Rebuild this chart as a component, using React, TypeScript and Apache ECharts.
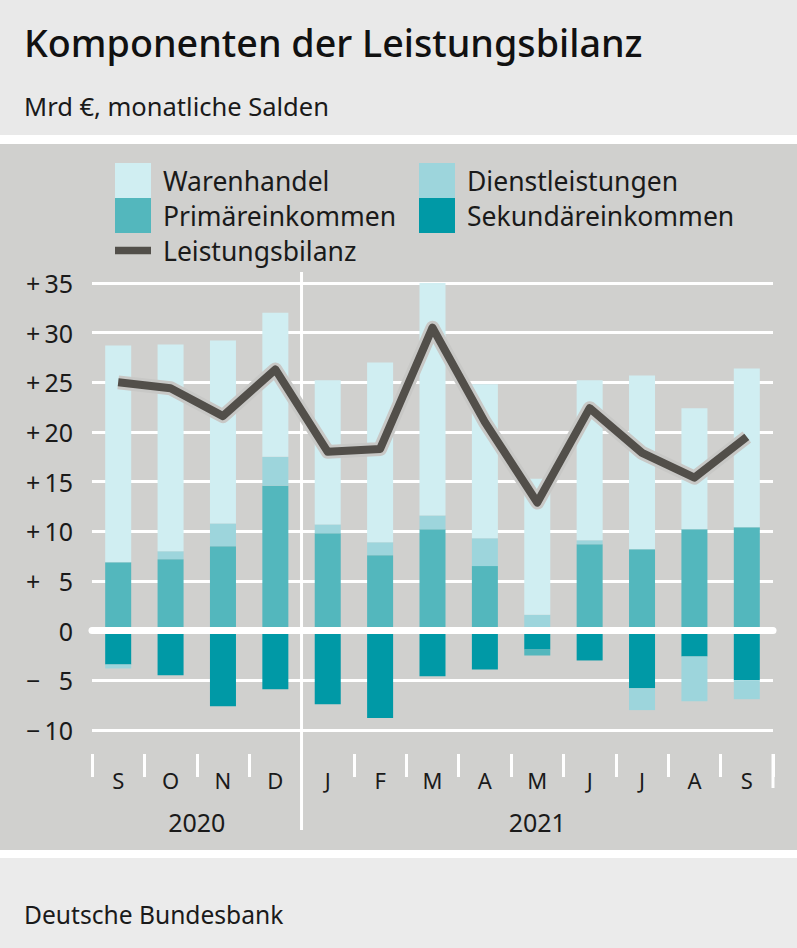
import React, { useEffect, useRef } from "react";
import * as echarts from "echarts";

const categories = ["S20", "O20", "N20", "D20", "J21", "F21", "M21", "A21", "M21b", "J21b", "J21c", "A21b", "S21"];
const years = [
  { label: "2020", from: 0, to: 3 },
  { label: "2021", from: 4, to: 12 },
];
const warenhandel = [21.8, 20.8, 18.4, 14.5, 14.5, 18.1, 23.4, 15.5, 13.7, 16.1, 17.5, 12.2, 16.0];
const dienstleistungen = [-0.4, 0.8, 2.3, 2.9, 0.9, 1.3, 1.4, 2.8, 1.6, 0.4, -2.2, -4.5, -1.9];
const primaereinkommen = [6.9, 7.2, 8.5, 14.6, 9.8, 7.6, 10.2, 6.5, -0.6, 8.7, 8.2, 10.2, 10.4];
const sekundaereinkommen = [-3.4, -4.5, -7.6, -5.9, -7.4, -8.8, -4.6, -3.9, -1.9, -3.0, -5.8, -2.6, -5.0];
const leistungsbilanz = [25.0, 24.4, 21.6, 26.3, 18.0, 18.3, 30.5, 21.0, 12.9, 22.4, 17.9, 15.4, 19.5];
const yTicks: Record<number, string> = {
  35: "+\u200935",
  30: "+\u200930",
  25: "+\u200925",
  20: "+\u200920",
  15: "+\u200915",
  10: "+\u200910",
  5: "+\u2009\u20075",
  0: "0",
  [-5]: "\u2212\u2009\u20075",
  [-10]: "\u2212\u200910",
};

const FONT = "'Noto Sans', sans-serif";
const TXT = "#1a1a1a";
const C_WAREN = "#d0eef2";
const C_DIENST = "#9dd5dc";
const C_PRIMAER = "#53b7bd";
const C_SEK = "#0099a6";
const C_LINE = "#524f4a";
const C_HALO = "#c8c8c6";

export default function App() {
  const ref = useRef<HTMLDivElement>(null);

  useEffect(() => {
    document.body.style.margin = "0";
    if (!ref.current) return;
    const chart = echarts.init(ref.current, null, { renderer: "svg" });
    const barBase = {
      type: "bar" as const,
      stack: "total",
      barWidth: 26,
      z: 2,
    };
    const legendText = { fontFamily: FONT, fontSize: 26.5, lineHeight: 35, color: TXT, padding: [0, 0, 0, 7] };
    chart.setOption({
      animation: false,
      backgroundColor: "transparent",
      textStyle: { fontFamily: FONT },
      grid: { left: 92, right: 24, top: 283, bottom: 948 - 730, containLabel: false },
      legend: [
        {
          data: [
            { name: "Warenhandel", icon: "rect" },
            { name: "Primäreinkommen", icon: "rect" },
            { name: "Leistungsbilanz", icon: "path://M0,0H36V7.5H0Z" },
          ],
          orient: "vertical",
          left: 115,
          top: 163,
          padding: 0,
          itemWidth: 36,
          itemHeight: 35,
          itemGap: 0,
          selectedMode: false,
          textStyle: legendText,
        },
        {
          data: [
            { name: "Dienstleistungen", icon: "rect" },
            { name: "Sekundäreinkommen", icon: "rect" },
          ],
          orient: "vertical",
          left: 419,
          top: 163,
          padding: 0,
          itemWidth: 36,
          itemHeight: 35,
          itemGap: 0,
          selectedMode: false,
          textStyle: legendText,
        },
      ],
      xAxis: [
        {
          type: "category",
          data: categories,
          position: "bottom",
          offset: 24,
          axisLine: { show: false, onZero: false },
          axisTick: { show: true, interval: 0, length: 23, lineStyle: { color: "#ffffff", width: 3 } },
          axisLabel: {
            interval: 0,
            margin: 15,
            fontFamily: FONT,
            fontSize: 22,
            color: TXT,
            formatter: (v: string) => v[0],
          },
          splitLine: { show: false },
        },
        {
          type: "category",
          data: categories,
          position: "bottom",
          z: 3,
          axisLine: { show: true, onZero: true, lineStyle: { color: "#ffffff", width: 7 } },
          axisTick: { show: false },
          axisLabel: { show: false },
          splitLine: { show: false },
        },
      ],
      yAxis: {
        type: "value",
        min: -10,
        max: 35,
        interval: 5,
        axisLine: { show: false },
        axisTick: { show: false },
        axisLabel: {
          margin: 19,
          fontFamily: FONT,
          fontSize: 25,
          color: TXT,
          formatter: (v: number) => yTicks[v] ?? String(v),
        },
        splitLine: { show: true, lineStyle: { color: "#ffffff", width: 3 } },
      },
      series: [
        { ...barBase, name: "Sekundäreinkommen", data: sekundaereinkommen, itemStyle: { color: C_SEK } },
        { ...barBase, name: "Primäreinkommen", data: primaereinkommen, itemStyle: { color: C_PRIMAER } },
        { ...barBase, name: "Dienstleistungen", data: dienstleistungen, itemStyle: { color: C_DIENST } },
        { ...barBase, name: "Warenhandel", data: warenhandel, itemStyle: { color: C_WAREN } },
        {
          type: "line",
          name: "Leistungsbilanz-halo",
          data: leistungsbilanz,
          symbol: "none",
          z: 4,
          silent: true,
          lineStyle: { color: C_HALO, width: 14, join: "round" },
          itemStyle: { color: C_HALO },
        },
        {
          type: "line",
          name: "Leistungsbilanz",
          data: leistungsbilanz,
          symbol: "none",
          z: 5,
          lineStyle: { color: C_LINE, width: 8, join: "round" },
          itemStyle: { color: C_LINE },
        },
      ],
    });

    const px = (i: number) => chart.convertToPixel({ xAxisIndex: 0 }, categories[i]) as number;
    const half = (px(1) - px(0)) / 2;
    const sepX = (px(3) + px(4)) / 2;
    const endX = px(categories.length - 1) + half;
    const yearTexts = years.map((y) => ({
      type: "text",
      x: (px(y.from) + px(y.to)) / 2,
      y: 822,
      style: {
        text: y.label,
        fontFamily: FONT,
        fontSize: 25,
        fill: TXT,
        align: "center",
        verticalAlign: "middle",
      },
    }));

    chart.setOption({
      graphic: [
        {
          type: "text",
          x: 24,
          y: 42,
          style: {
            text: "Komponenten der Leistungsbilanz",
            fontFamily: FONT,
            fontSize: 37.7,
            fontWeight: 500,
            fill: "#111111",
            verticalAlign: "middle",
          },
        },
        {
          type: "text",
          x: 24,
          y: 106,
          style: { text: "Mrd €, monatliche Salden", fontFamily: FONT, fontSize: 25.5, fill: TXT, verticalAlign: "middle" },
        },
        {
          type: "text",
          x: 24,
          y: 914,
          style: { text: "Deutsche Bundesbank", fontFamily: FONT, fontSize: 24.6, fill: TXT, verticalAlign: "middle" },
        },
        {
          type: "line",
          z: 1,
          shape: { x1: sepX, y1: 272, x2: sepX, y2: 830 },
          style: { stroke: "#ffffff", lineWidth: 3 },
        },
        {
          type: "line",
          z: 1,
          shape: { x1: endX, y1: 754, x2: endX, y2: 788 },
          style: { stroke: "#ffffff", lineWidth: 3 },
        },
        ...yearTexts,
      ],
    });

    return () => chart.dispose();
  }, []);

  return (
    <div style={{ position: "relative", width: 797, height: 948, background: "#e9e9e9", overflow: "hidden" }}>
      <div style={{ position: "absolute", left: 0, top: 135, width: 797, height: 9, background: "#ffffff" }} />
      <div style={{ position: "absolute", left: 0, top: 144, width: 797, height: 706, background: "#d0d0ce" }} />
      <div style={{ position: "absolute", left: 0, top: 850, width: 797, height: 8, background: "#ffffff" }} />
      <div style={{ position: "absolute", left: 0, top: 858, width: 797, height: 90, background: "#ebebeb" }} />
      <div ref={ref} style={{ position: "absolute", left: 0, top: 0, width: 797, height: 948 }} />
    </div>
  );
}
